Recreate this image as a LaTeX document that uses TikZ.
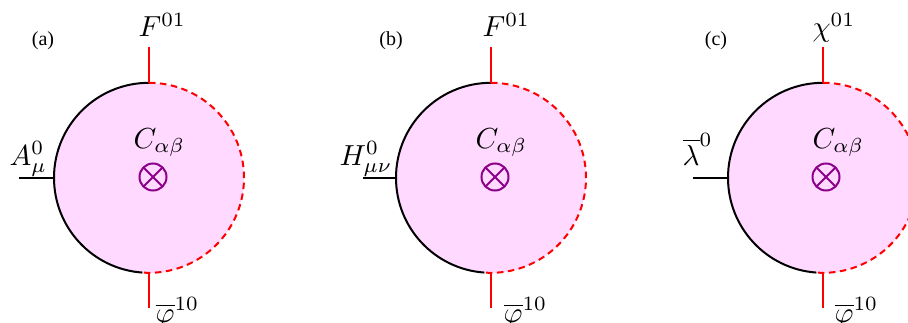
\documentclass[tikz,border=0pt]{standalone}
\usepackage{fontspec}
\newfontfamily\capfont{Liberation Serif}
\definecolor{pinkfill}{RGB}{255,217,255}
\definecolor{vio}{RGB}{140,0,140}
\tikzset{
  blob/.style={circle, fill=pinkfill, minimum size=190pt, inner sep=0pt},
  bline/.style={line width=2pt, black},
  rline/.style={line width=2pt, red},
  rdash/.style={line width=2pt, red, dash pattern=on 6.5pt off 4.5pt},
  otimesnode/.style={circle, draw=vio, line width=2pt, minimum size=27pt, inner sep=0pt,
    path picture={\draw[vio, line width=2pt] (path picture bounding box.north west) -- (path picture bounding box.south east)
      (path picture bounding box.north east) -- (path picture bounding box.south west);}},
  mlab/.style={inner sep=0pt, anchor=base west, scale=2.9},
  plab/.style={inner sep=0pt, anchor=base, font=\capfont\fontsize{20}{22}\selectfont}
}
\begin{document}
\begin{tikzpicture}[x=1pt,y=1pt]
\useasboundingbox (0,0) rectangle (908,322);
\clip (0,0) rectangle (908,322);
% ---------- panel (a)
\node[blob] (ca) at (149,144) {};
\coordinate (ta) at (149,275);
\coordinate (ba) at (149,14);
\coordinate (la) at (19,144);
\draw[bline] (ca.north) arc[start angle=90, end angle=266, radius=95pt];
\draw[rdash] (ca.north) arc[start angle=90, end angle=-94, radius=95pt];
\draw[rline] (ca.north) -- (ta);
\draw[rline] (ca.south) -- (ba);
\draw[bline] (ca.west) -- (la);
\node[otimesnode] (xa) at (153,145) {};
\node[mlab] (cla) at (133,174) {$C_{\alpha\beta}$};
\node[mlab] (fa) at (138,285) {$F^{01}$};
\node[mlab] (aa) at (9,157) {$A^0_\mu$};
\node[mlab] (pa) at (155,0) {$\overline{\varphi}^{10}$};
\node[plab] (na) at (43,276) {(a)};
% ---------- panel (b)
\node[blob] (cb) at (491,144) {};
\coordinate (tb) at (491,275);
\coordinate (bb) at (491,14);
\coordinate (lb) at (363,144);
\draw[bline] (cb.north) arc[start angle=90, end angle=266, radius=95pt];
\draw[rdash] (cb.north) arc[start angle=90, end angle=-94, radius=95pt];
\draw[rline] (cb.north) -- (tb);
\draw[rline] (cb.south) -- (bb);
\draw[bline] (cb.west) -- (lb);
\node[otimesnode] (xb) at (495,145) {};
\node[mlab] (clb) at (475,174) {$C_{\alpha\beta}$};
\node[mlab] (fb) at (482,285) {$F^{01}$};
\node[mlab] (hb) at (339,157) {$H^0_{\mu\nu}$};
\node[mlab] (pb) at (503,0) {$\overline{\varphi}^{10}$};
\node[plab] (nb) at (391,276) {(b)};
% ---------- panel (c)
\node[blob] (cc) at (823,144) {};
\coordinate (tc) at (823,275);
\coordinate (bc) at (823,14);
\coordinate (lc) at (693,144);
\draw[bline] (cc.north) arc[start angle=90, end angle=266, radius=95pt];
\draw[rdash] (cc.north) arc[start angle=90, end angle=-94, radius=95pt];
\draw[rline] (cc.north) -- (tc);
\draw[rline] (cc.south) -- (bc);
\draw[bline] (cc.west) -- (lc);
\node[otimesnode] (xc) at (826,145) {};
\node[mlab] (clc) at (812,174) {$C_{\alpha\beta}$};
\node[mlab] (fc) at (812,285) {$\chi^{01}$};
\node[mlab] (lamc) at (682,157) {$\overline{\lambda}^0$};
\node[mlab] (pc) at (834,0) {$\overline{\varphi}^{10}$};
\node[plab] (nc) at (716,276) {(c)};
\end{tikzpicture}
\end{document}
